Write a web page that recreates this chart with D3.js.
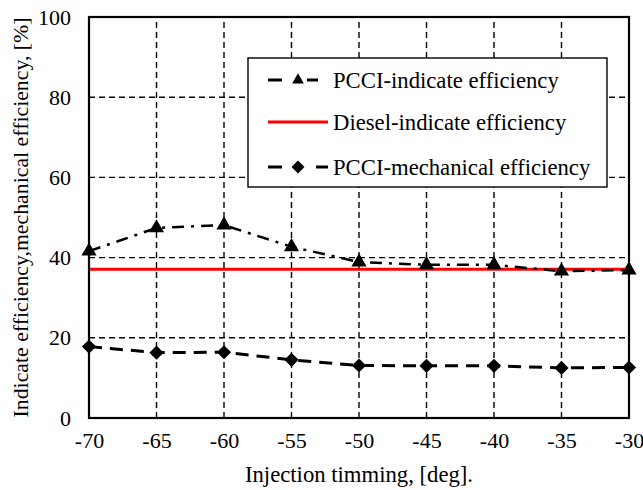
<!DOCTYPE html>
<html>
<head>
<meta charset="utf-8">
<script src="https://cdn.jsdelivr.net/npm/d3@7"></script>
<style>
  body { margin: 0; background: #fff; }
  text { font-family: "Liberation Serif", "Times New Roman", serif; fill: #000; }
</style>
</head>
<body>
<svg width="643" height="490"></svg>
<script>
let timing = [-70, -65, -60, -55, -50, -45, -40, -35, -30]
let pcciIndicate = [41.6, 47.4, 48.1, 42.7, 38.9, 38.2, 38.2, 36.6, 36.9]
let dieselIndicate = [37.1, 37.1, 37.1, 37.1, 37.1, 37.1, 37.1, 37.1, 37.1]
let pcciMechanical = [17.8, 16.3, 16.4, 14.5, 13.1, 13.0, 13.0, 12.5, 12.6]
let xTicks = [-70, -65, -60, -55, -50, -45, -40, -35, -30]
let yTicks = [0, 20, 40, 60, 80, 100]
let seriesNames = ['PCCI-indicate efficiency', 'Diesel-indicate efficiency', 'PCCI-mechanical efficiency']

let width = 643
let height = 490
let margin = { top: 17, bottom: 72, left: 89, right: 14 }
let fontFamily = '"Liberation Serif", "Times New Roman", serif'

let svg = d3.select('svg')

let xScale = d3.scaleLinear()
  .domain([-70, -30])
  .range([margin.left, width - margin.right])

let yScale = d3.scaleLinear()
  .domain([0, 100])
  .range([height - margin.bottom, margin.top])

// grid
svg.append('g')
  .selectAll('line')
  .data(xTicks.slice(1, -1))
  .join('line')
  .attr('x1', d => xScale(d)).attr('x2', d => xScale(d))
  .attr('y1', yScale(0)).attr('y2', yScale(100))
  .attr('stroke', '#000').attr('stroke-width', 1.4)
  .attr('stroke-dasharray', '6,4')

svg.append('g')
  .selectAll('line')
  .data(yTicks.slice(1, -1))
  .join('line')
  .attr('x1', xScale(-70)).attr('x2', xScale(-30))
  .attr('y1', d => yScale(d)).attr('y2', d => yScale(d))
  .attr('stroke', '#000').attr('stroke-width', 1.4)
  .attr('stroke-dasharray', '6,4')

// axes (labels only, no tick marks)
let xAxis = d3.axisBottom(xScale).tickValues(xTicks).tickSize(0).tickPadding(14)
  .tickFormat(d => String(d))
let yAxis = d3.axisLeft(yScale).tickValues(yTicks).tickSize(0).tickPadding(18)
  .tickFormat(d => String(d))

let gx = svg.append('g')
  .attr('transform', 'translate(' + [0, yScale(0)] + ')')
  .call(xAxis)
gx.select('.domain').remove()
gx.selectAll('text').style('font-size', '22px').style('font-family', fontFamily)

let gy = svg.append('g')
  .attr('transform', 'translate(' + [xScale(-70), 0] + ')')
  .call(yAxis)
gy.select('.domain').remove()
gy.selectAll('text').style('font-size', '22px').style('font-family', fontFamily)

// series
let line = d3.line()
  .x(d => xScale(d[0]))
  .y(d => yScale(d[1]))

let pcciData = d3.zip(timing, pcciIndicate)
let dieselData = d3.zip(timing, dieselIndicate)
let mechData = d3.zip(timing, pcciMechanical)

svg.append('path')
  .attr('d', line(dieselData))
  .attr('fill', 'none')
  .attr('stroke', '#ff0000')
  .attr('stroke-width', 3)

svg.append('path')
  .attr('d', line(pcciData))
  .attr('fill', 'none')
  .attr('stroke', '#000')
  .attr('stroke-width', 2.5)
  .attr('stroke-dasharray', '12,7,3,7')

svg.append('path')
  .attr('d', line(mechData))
  .attr('fill', 'none')
  .attr('stroke', '#000')
  .attr('stroke-width', 3)
  .attr('stroke-dasharray', '13,8')

let tri = d3.symbol().type(d3.symbolTriangle).size(100)
let dia = d3.symbol().type(d3.symbolSquare).size(100)
let triSmall = d3.symbol().type(d3.symbolTriangle).size(60)
let diaSmall = d3.symbol().type(d3.symbolSquare).size(85)

svg.append('g')
  .selectAll('path')
  .data(pcciData)
  .join('path')
  .attr('d', tri)
  .attr('transform', d => 'translate(' + [xScale(d[0]), yScale(d[1])] + ')')
  .attr('fill', '#000')

svg.append('g')
  .selectAll('path')
  .data(mechData)
  .join('path')
  .attr('d', dia)
  .attr('transform', d => 'translate(' + [xScale(d[0]), yScale(d[1])] + ') rotate(45)')
  .attr('fill', '#000')

// plot frame
svg.append('rect')
  .attr('x', xScale(-70)).attr('y', yScale(100))
  .attr('width', xScale(-30) - xScale(-70))
  .attr('height', yScale(0) - yScale(100))
  .attr('fill', 'none')
  .attr('stroke', '#000')
  .attr('stroke-width', 2.2)

// legend
let legend = svg.append('g').attr('transform', 'translate(248,58)')
legend.append('rect')
  .attr('width', 359).attr('height', 129)
  .attr('fill', '#fff')
  .attr('stroke', '#000')
  .attr('stroke-width', 1.4)

let rowY = [22, 64, 109]
let items = legend.selectAll('g.item')
  .data(seriesNames)
  .join('g')
  .attr('class', 'item')
  .attr('transform', (d, i) => 'translate(0,' + rowY[i] + ')')

items.each(function (d, i) {
  let g = d3.select(this)
  if (i === 1) {
    g.append('line').attr('x1', 20).attr('x2', 80).attr('y1', 0).attr('y2', 0)
      .attr('stroke', '#ff0000').attr('stroke-width', 3)
  } else {
    g.append('line').attr('x1', 20).attr('x2', 34).attr('y1', 0).attr('y2', 0)
      .attr('stroke', '#000').attr('stroke-width', 3)
    g.append('line').attr('x1', i === 0 ? 59 : 68).attr('x2', i === 0 ? 70 : 80).attr('y1', 0).attr('y2', 0)
      .attr('stroke', '#000').attr('stroke-width', 3)
    g.append('path')
      .attr('d', i === 0 ? triSmall : diaSmall)
      .attr('transform', i === 0 ? 'translate(50,0)' : 'translate(50,0) rotate(45)')
      .attr('fill', '#000')
  }
  g.append('text')
    .attr('x', 85).attr('y', 0).attr('dy', '0.33em')
    .style('font-size', '22.7px')
    .text(d)
})

// axis titles
svg.append('text')
  .attr('x', (xScale(-70) + xScale(-30)) / 2)
  .attr('y', 482)
  .attr('text-anchor', 'middle')
  .style('font-size', '22.7px')
  .text('Injection timming, [deg].')

svg.append('text')
  .attr('transform', 'translate(28,' + yScale(50) + ') rotate(-90)')
  .attr('text-anchor', 'middle')
  .style('font-size', '21.8px')
  .text('Indicate efficiency,mechanical efficiency, [%]')
</script>
</body>
</html>
